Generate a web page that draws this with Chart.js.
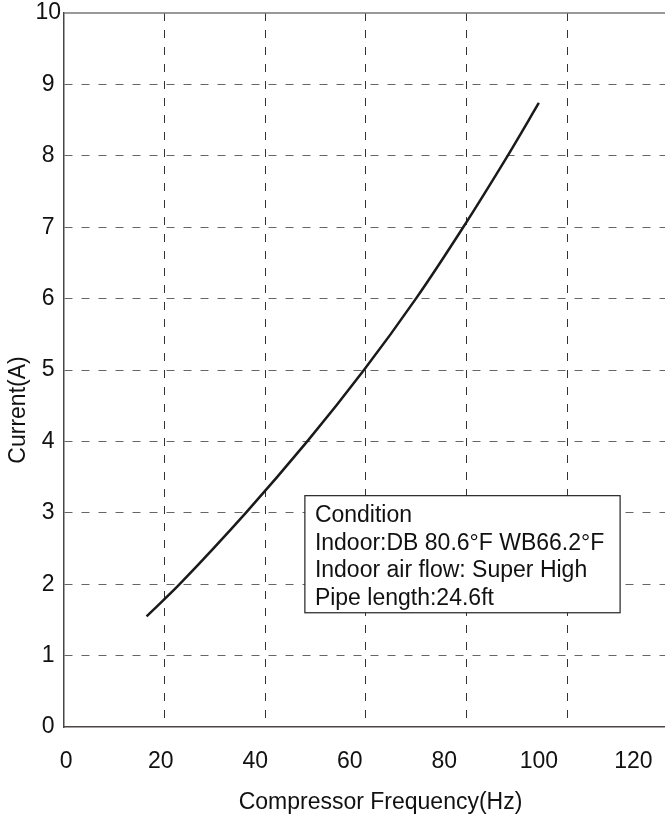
<!DOCTYPE html>
<html>
<head>
<meta charset="utf-8">
<title>Current vs Compressor Frequency</title>
<script src="https://cdn.jsdelivr.net/npm/chart.js@4.4.1/dist/chart.umd.min.js"></script>
<style>
  html, body { margin: 0; padding: 0; background: #fff; }
  #wrap { width: 665px; height: 823px; }
</style>
</head>
<body>
<div id="wrap"><canvas id="currentChart" width="665" height="823"></canvas></div>
<script>
// values
const freqHz = [17, 24, 38, 51, 63, 74, 84, 93.4, 100];
const currentA = [1.55, 2.0, 3.0, 4.0, 5.0, 6.0, 7.0, 8.0, 8.74];

const xTickValues = [0, 20, 40, 60, 80, 100, 120];
const yTickValues = [0, 1, 2, 3, 4, 5, 6, 7, 8, 9, 10];
// the vertical grid of the original does not sit on the tick labels
const xGridValues = [1, 2, 3, 4, 5];

const conditionLines = [
  'Condition',
  'Indoor:DB 80.6°F WB66.2°F',
  'Indoor air flow: Super High',
  'Pipe length:24.6ft',
];

const FONT = '"Liberation Sans", Arial, Helvetica, sans-serif';
const DASH = [8, 9];

const frame = {
  id: 'frame',
  afterDraw(chart) {
    const { ctx, chartArea: a, scales } = chart;
    ctx.save();

    // top border
    ctx.strokeStyle = '#777';
    ctx.lineWidth = 1.5;
    ctx.beginPath();
    ctx.moveTo(a.left, a.top);
    ctx.lineTo(a.right, a.top);
    ctx.stroke();

    // axis titles
    ctx.fillStyle = '#111';
    ctx.font = '23px ' + FONT;
    ctx.textAlign = 'center';
    ctx.textBaseline = 'middle';
    ctx.fillText('Compressor Frequency(Hz)', (a.left + a.right) / 2 + 16, a.bottom + 76);
    ctx.save();
    ctx.translate(19, (a.top + a.bottom) / 2 + 40);
    ctx.rotate(-Math.PI / 2);
    ctx.fillText('Current(A)', 0, 0);
    ctx.restore();

    // condition box
    const left = scales.x.getPixelForValue(50.5);
    const top = scales.y.getPixelForValue(3.24);
    const right = scales.x.getPixelForValue(117.2);
    const bottom = scales.y.getPixelForValue(1.6);
    ctx.fillStyle = '#fff';
    ctx.fillRect(left, top, right - left, bottom - top);
    ctx.strokeStyle = '#222';
    ctx.lineWidth = 1.2;
    ctx.strokeRect(left, top, right - left, bottom - top);
    ctx.fillStyle = '#111';
    ctx.textAlign = 'left';
    conditionLines.forEach((line, i) => {
      ctx.fillText(line, left + 10, top + 20 + i * 27.5);
    });

    ctx.restore();
  },
};

const ctx = document.getElementById('currentChart');
new Chart(ctx, {
  type: 'line',
  data: {
    datasets: [
      {
        label: 'Current',
        data: freqHz.map((f, i) => ({ x: f, y: currentA[i] })),
        borderColor: '#1a1a1a',
        borderWidth: 2.5,
        pointRadius: 0,
        fill: false,
        tension: 0.3,
        xAxisID: 'x',
        yAxisID: 'y',
      },
    ],
  },
  options: {
    responsive: false,
    animation: false,
    layout: { padding: { top: 13, right: 0, bottom: 0, left: 0 } },
    plugins: {
      legend: { display: false },
      tooltip: { enabled: false },
    },
    scales: {
      x: {
        type: 'linear',
        position: 'bottom',
        min: -0.47,
        max: 126.7,
        afterBuildTicks: (scale) => {
          scale.ticks = xTickValues.map((v) => ({ value: v }));
        },
        afterFit: (scale) => {
          scale.height = 96;
          scale.paddingLeft = 0;
          scale.paddingRight = 0;
        },
        grid: { display: false, drawTicks: false },
        border: { color: '#4a4444', width: 1.5 },
        ticks: {
          autoSkip: false,
          maxRotation: 0,
          padding: 21,
          color: '#111',
          font: { family: FONT, size: 23 },
        },
      },
      xg: {
        type: 'linear',
        position: 'bottom',
        min: 0,
        max: 5.974,
        afterBuildTicks: (scale) => {
          scale.ticks = xGridValues.map((v) => ({ value: v }));
        },
        afterFit: (scale) => {
          scale.height = 0;
          scale.paddingLeft = 0;
          scale.paddingRight = 0;
        },
        grid: {
          color: '#333',
          lineWidth: 1,
          drawTicks: false,
        },
        border: { display: false, dash: DASH },
        ticks: { display: false },
      },
      y: {
        type: 'linear',
        min: 0,
        max: 10,
        afterBuildTicks: (scale) => {
          scale.ticks = yTickValues.map((v) => ({ value: v }));
        },
        afterFit: (scale) => {
          scale.width = 64;
          scale.paddingTop = 0;
          scale.paddingBottom = 0;
        },
        grid: {
          color: (c) => (c.tick && (c.tick.value === 0 || c.tick.value === 10) ? 'rgba(0,0,0,0)' : '#666'),
          lineWidth: 1,
          drawTicks: false,
        },
        border: { color: '#4a4444', width: 1.5, dash: DASH },
        ticks: {
          crossAlign: 'center',
          padding: 3,
          color: '#111',
          font: { family: FONT, size: 23 },
        },
      },
    },
  },
  plugins: [frame],
});
</script>
</body>
</html>
